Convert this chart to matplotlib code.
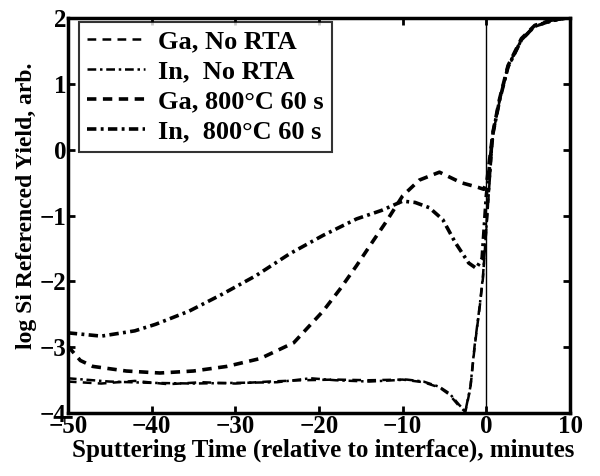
import numpy as np
import matplotlib
matplotlib.use("Agg")
import matplotlib.pyplot as plt

plt.rcParams['font.family'] = ['Liberation Serif', 'DejaVu Serif']
plt.rcParams['font.weight'] = 'bold'
plt.rcParams['axes.labelweight'] = 'bold'

# Ga, No RTA
x_ga_no = [-50, -46, -42, -38, -34, -30, -26, -22, -18, -14, -10, -7.5, -5.6, -4.4, -3.2, -2.5,
           -1.9, -1.4, -0.8, -0.4, 0, 0.8, 1.6, 2.6, 4.2, 5.8, 7.8, 9.5]
y_ga_no = [-3.52, -3.55, -3.51, -3.56, -3.53, -3.55, -3.52, -3.50, -3.49, -3.50, -3.49, -3.53,
           -3.61, -3.72, -3.90, -3.98, -3.62, -3.0, -2.4, -1.95, -1.2, 0.26, 0.77, 1.27, 1.68,
           1.88, 1.96, 2.0]

# In, No RTA
x_in_no = [-50, -45, -40, -35, -30, -25, -21, -18, -14, -9.5, -7.5, -5.6, -4.4, -3.2, -2.5,
           -1.9, -1.4, -0.8, -0.4, 0, 0.8, 1.6, 2.6, 4.2, 5.8, 7.8, 9.5]
y_in_no = [-3.47, -3.52, -3.54, -3.55, -3.54, -3.53, -3.47, -3.50, -3.52, -3.49, -3.52, -3.60,
           -3.70, -3.88, -3.97, -3.60, -2.98, -2.38, -1.92, -1.2, 0.24, 0.75, 1.25, 1.66,
           1.87, 1.95, 2.0]

# Ga, 800C 60 s
x_ga_800 = [-50, -48.5, -47, -43, -39, -35, -31, -27, -25, -23, -19.5, -17.5, -15.5, -13.5,
            -12, -10, -8, -5.6, -3, -1, -0.3, 0.1, 0.8, 1.6, 2.6, 4.2, 5.8, 7.8, 9.5]
y_ga_800 = [-2.98, -3.2, -3.29, -3.36, -3.39, -3.36, -3.29, -3.17, -3.05, -2.93, -2.45, -2.12,
            -1.76, -1.38, -1.1, -0.7, -0.46, -0.34, -0.5, -0.57, -0.6, -0.45, 0.27, 0.78,
            1.28, 1.69, 1.89, 1.97, 2.0]

# In, 800C 60 s
x_in_800 = [-50, -46, -42, -39.5, -35.5, -31.5, -27.5, -23.5, -19.5, -15.5, -12.5, -10, -8.5,
            -6.8, -5.2, -3.7, -2.1, -1.2, -0.5, 0, 0.8, 1.6, 2.6, 4.2, 5.8, 7.8, 9.5]
y_in_800 = [-2.78, -2.83, -2.75, -2.65, -2.45, -2.19, -1.91, -1.58, -1.30, -1.05, -0.92, -0.78,
            -0.8, -0.88, -1.06, -1.41, -1.72, -1.8, -1.65, -0.7, 0.25, 0.76, 1.26, 1.67,
            1.88, 1.96, 2.0]

fig = plt.figure(figsize=(6, 4.76), dpi=100)
ax = fig.add_axes([0.113, 0.132, 0.837, 0.83])

ax.plot(x_ga_no, y_ga_no, color='black', lw=1.8, dashes=(3.5, 2.5), label='Ga, No RTA')
ax.plot(x_in_no, y_in_no, color='black', lw=1.8, dashes=(3.5, 1.5, 1, 1.5), label='In,  No RTA')
ax.plot(x_ga_800, y_ga_800, color='black', lw=2.6, dashes=(2.6, 1.8), label='Ga, 800°C 60 s')
ax.plot(x_in_800, y_in_800, color='black', lw=2.6, dashes=(2.6, 1.2, 0.8, 1.2), label='In,  800°C 60 s')
ax.axvline(0, color='black', lw=1.0)

ax.set_xlim(-50, 10)
ax.set_ylim(-4, 2)
ax.set_xticks(np.arange(-50, 11, 10))
ax.set_yticks(np.arange(-4, 3, 1))
ax.tick_params(direction='in', top=True, right=True, length=5, width=2, labelsize=18, pad=1)
for s in ax.spines.values():
    s.set_linewidth(2.5)

ax.set_xlabel('Sputtering Time (relative to interface), minutes', fontsize=18)
ax.xaxis.set_label_coords(0.508, -0.065)
ax.set_ylabel('log Si Referenced Yield, arb.', fontsize=17)
ax.yaxis.set_label_coords(-0.062, 0.525)

leg = ax.legend(loc='upper left', bbox_to_anchor=(0.022, 0.99), borderaxespad=0,
                fontsize=19, frameon=True, fancybox=False, handlelength=2.2,
                handletextpad=0.5, labelspacing=0.25, borderpad=0.3)
leg.get_frame().set_edgecolor('black')
leg.get_frame().set_linewidth(1.5)

fig.savefig('out.png', dpi=100)
